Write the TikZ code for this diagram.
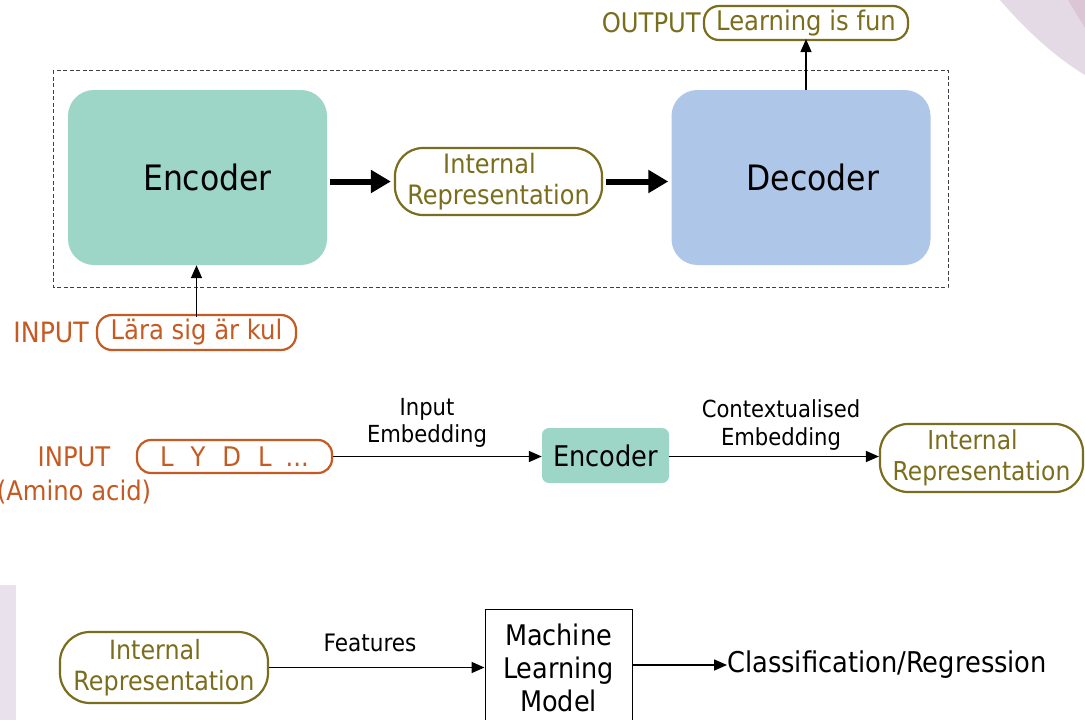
\documentclass[tikz,border=0pt]{standalone}
\usepackage{fontspec}
\setmainfont{DejaVu Sans}[FakeStretch=0.9]
\usetikzlibrary{arrows.meta,positioning}

\definecolor{encfill}{HTML}{9DD5C6}
\definecolor{decfill}{HTML}{AEC6E8}
\definecolor{olive}{HTML}{7A6E1E}
\definecolor{rust}{HTML}{C55A22}
\definecolor{lav}{HTML}{E4DAE6}
\definecolor{lavdark}{HTML}{D3B8CB}

% font size with matching line spacing, in points
\newcommand{\fs}[1]{\fontsize{#1pt}{\dimexpr #1pt*117/100\relax}\selectfont}

\tikzset{
  pill/.style={rectangle, rounded corners=#1, line width=2.2pt, inner sep=0pt, align=center},
  olivepill/.style={pill=#1, draw=olive, text=olive},
  rustpill/.style={pill=#1, draw=rust, text=rust},
  bigbox/.style={rounded corners=26pt, inner sep=0pt, minimum width=259pt, minimum height=175pt, font=\fs{35}},
  thinarrow/.style={line width=1.6pt, -{Triangle[length=13pt,width=11pt]}},
  thickarrow/.style={line width=6pt, -{Triangle[length=20pt,width=22pt]}},
  lbl/.style={inner sep=0pt, align=center}
}

\begin{document}
\begin{tikzpicture}[x=1pt,y=-1pt]
\useasboundingbox (0,0) rectangle (1085,720);
\fill[white] (0,0) rectangle (1085,720);

% faint background swooshes
\fill[lav] (1000,0) .. controls (1030,35) and (1060,60) .. (1085,75) -- (1085,0) -- cycle;
\fill[lavdark!80] (1068,0) .. controls (1074,10) and (1080,20) .. (1085,28) -- (1085,0) -- cycle;
\fill[lav!80] (0,585) -- (16,585) -- (16,720) -- (0,720) -- cycle;

% ---------- encoder / decoder block ----------
\draw[black!75, dash pattern=on 4pt off 2.5pt, line width=1pt] (53,70) rectangle (948,287);

\node[bigbox, fill=encfill] (enc) at (197.5,177.5) {\hspace*{20pt}Encoder};
\node[bigbox, fill=decfill] (dec) at (801,177.5) {\hspace*{24pt}Decoder};
\node[olivepill=28pt, minimum width=207pt, minimum height=67pt, font=\fs{26.7}] (ir1) at (498.5,181.5)
  {\hspace*{-18pt}Internal\\Representation};

\coordinate (a1) at ([xshift=3pt]enc.east |- ir1.west);
\draw[thickarrow] (a1) -- ([xshift=-3pt]ir1.west);
\draw[thickarrow] ([xshift=3pt]ir1.east) -- ([xshift=-3pt]dec.west |- ir1.east);

\node[olivepill=15pt, minimum width=204pt, minimum height=34pt, font=\fs{27}] (out) at (806,23) {Learning is fun};
\node[lbl, text=olive, anchor=east, font=\fs{27}] (outlbl) at (701,23) {OUTPUT};
\draw[thinarrow] (dec.north -| out.south) -- ([yshift=2pt]out.south);

\node[rustpill=15pt, minimum width=199pt, minimum height=35pt, font=\fs{27}] (in) at (196.5,332.5) {Lära sig är kul};
\node[lbl, text=rust, anchor=east, font=\fs{28}] (inlbl) at (89,332.5) {INPUT};
\draw[thinarrow] ([yshift=-3pt]in.north) -- (in.north |- enc.south);

% ---------- protein encoder row ----------
\node[lbl, text=rust, font=\fs{27}] (in2lbl) at (74,457) {INPUT};
\node[lbl, text=rust, font=\fs{27}] (amino) at (74,492) {(Amino acid)};
\node[rustpill=14pt, minimum width=195pt, minimum height=33pt, font=\fs{27}] (seq) at (234.5,456.5)
  {L\hspace{17pt}Y\hspace{17pt}D\hspace{17pt}L\hspace{14pt}...};
\node[fill=encfill, rounded corners=7pt, minimum width=127pt, minimum height=55pt, inner sep=0pt, font=\fs{28.5}] (enc2) at (605.5,455.5)
  {Encoder};
\node[olivepill=28pt, minimum width=203pt, minimum height=68pt, font=\fs{26}] (ir2) at (981.5,458)
  {\hspace*{-18pt}Internal\\Representation};

\draw[thinarrow] (seq.east) -- (seq.east -| enc2.west);
\draw[thinarrow] (enc2.east |- seq.east) -- (ir2.west |- seq.east);
\node[lbl, font=\fs{23.5}] (emb1) at (427,423) {Input\\Embedding};
\node[lbl, font=\fs{23.5}] (emb2) at (781,425) {Contextualised\\Embedding};

% ---------- downstream model row ----------
\node[olivepill=30pt, minimum width=208pt, minimum height=71pt, font=\fs{26.5}] (ir3) at (164,667.5)
  {\hspace*{-18pt}Internal\\Representation};
\node[draw=black, line width=1pt, minimum width=147pt, minimum height=118pt, inner sep=0pt, align=center, font=\fs{28.4}] (ml) at (558.5,668)
  {Machine\\Learning\\Model};
\node[lbl, anchor=west, font=\fs{28.6}] (cls) at (727,665) {Classification/Regression};
\node[lbl, font=\fs{24}] (feat) at (370,643) {Features};

\draw[thinarrow] (ir3.east) -- (ir3.east -| ml.west);
\draw[thinarrow] (ml.east |- cls.west) -- (cls.west);
\end{tikzpicture}
\end{document}
